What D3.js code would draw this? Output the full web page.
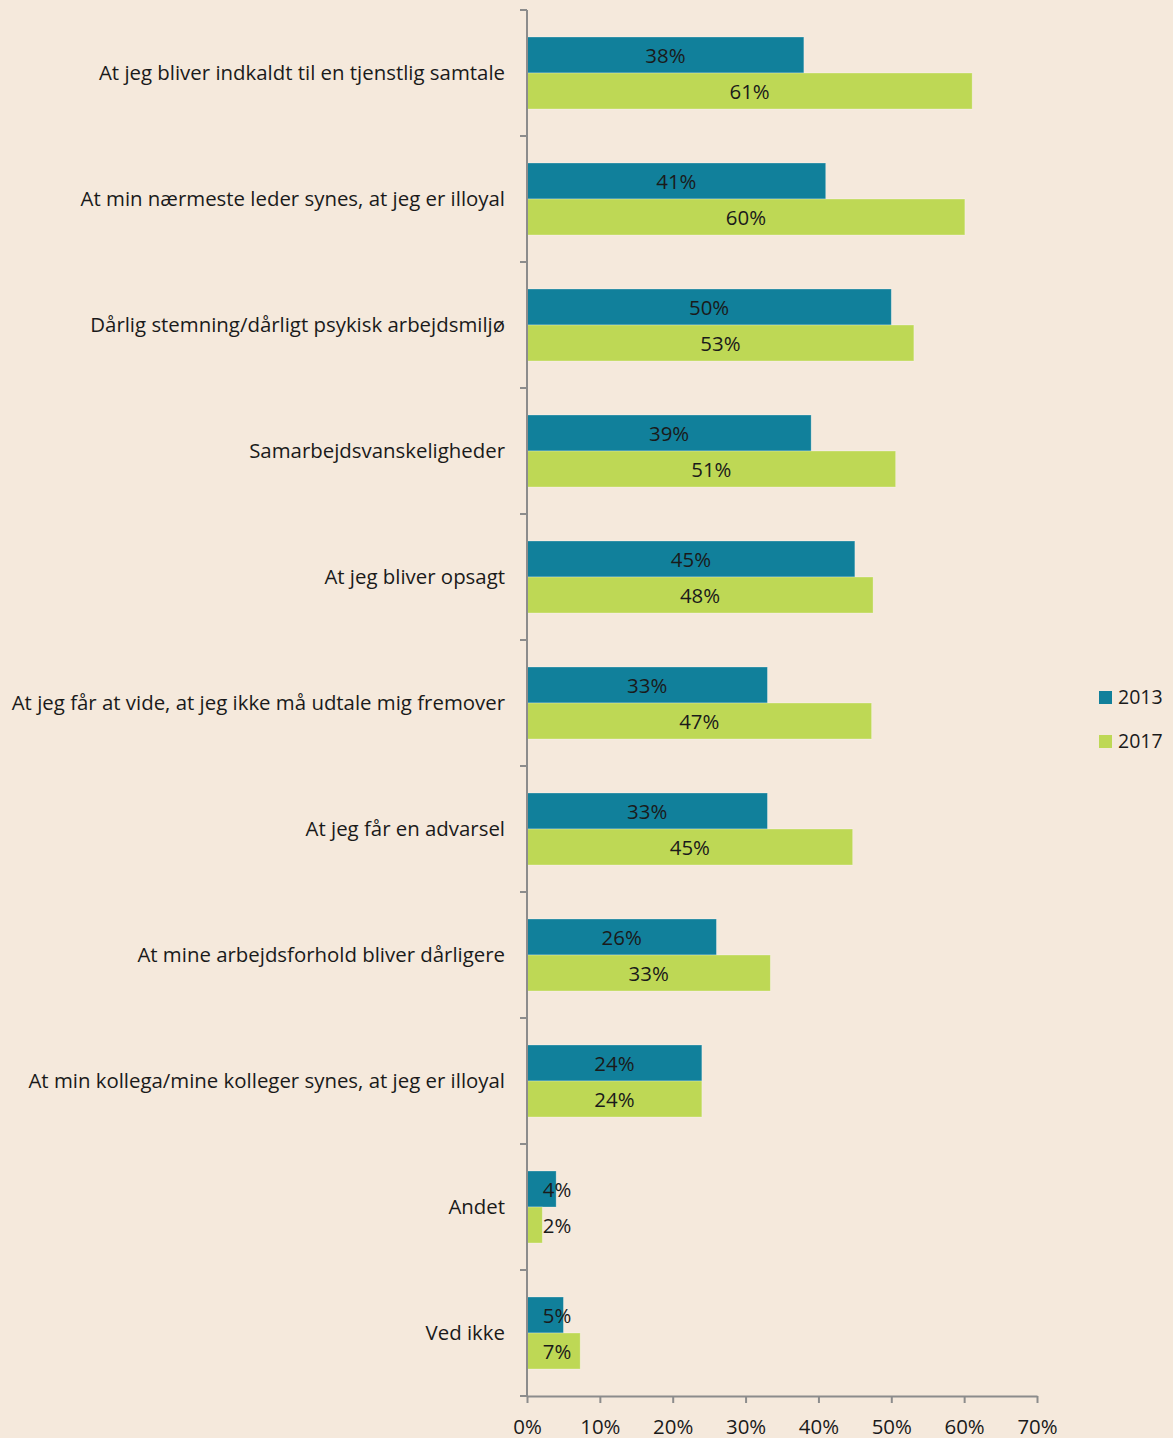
<!DOCTYPE html>
<html><head><meta charset="utf-8">
<script src="https://cdn.jsdelivr.net/npm/d3@7"></script>
<style>
html,body{margin:0;padding:0;background:#f5e9dc;}
text{font-family:"Open Sans","Noto Sans",sans-serif;fill:#1a1a1a;}
</style></head><body>
<svg id="c" width="1173" height="1438"></svg>
<script>
const categories = [
  "At jeg bliver indkaldt til en tjenstlig samtale",
  "At min nærmeste leder synes, at jeg er illoyal",
  "Dårlig stemning/dårligt psykisk arbejdsmiljø",
  "Samarbejdsvanskeligheder",
  "At jeg bliver opsagt",
  "At jeg får at vide, at jeg ikke må udtale mig fremover",
  "At jeg får en advarsel",
  "At mine arbejdsforhold bliver dårligere",
  "At min kollega/mine kolleger synes, at jeg er illoyal",
  "Andet",
  "Ved ikke"
];
const series = ["2013", "2017"];
const values2013 = [38.0, 41.0, 50.0, 39.0, 45.0, 33.0, 33.0, 26.0, 24.0, 4.0, 5.0];
const values2017 = [61.1, 60.1, 53.1, 50.6, 47.5, 47.3, 44.7, 33.4, 24.0, 2.1, 7.3];
const xTicks = [0, 10, 20, 30, 40, 50, 60, 70];
const colors = ["#11809b", "#bed855"];

const svg = d3.select("#c");
const x = d3.scaleLinear().domain([0, 70]).range([527, 1037]);
const y = d3.scaleBand().domain(categories).range([10, 1396]).paddingInner(54/126).paddingOuter(27/126);
const ySub = d3.scaleBand().domain(series).range([0, y.bandwidth()]);

const data = categories.map((c, i) => ({c, v: [values2013[i], values2017[i]]}));
const FS = 20.4;

// bars
const g = svg.append("g");
data.forEach(d => {
  series.forEach((s, j) => {
    const v = d.v[j];
    const yy = y(d.c) + ySub(s);
    g.append("rect")
      .attr("x", x(0)).attr("y", yy)
      .attr("width", x(v) - x(0)).attr("height", ySub.bandwidth())
      .attr("fill", colors[j])
      .attr("stroke", "rgba(255,255,255,0.35)").attr("stroke-width", 0.8);
    const cx = Math.max((x(0) + x(v)) / 2, x(0) + 30);
    g.append("text")
      .attr("x", cx).attr("y", yy + ySub.bandwidth() / 2)
      .attr("dy", "0.38em").attr("text-anchor", "middle")
      .attr("font-size", FS)
      .text(Math.round(v) + "%");
  });
});

// y axis
const axisColor = "#8c8c8c";
svg.append("line").attr("x1", 527).attr("x2", 527).attr("y1", 10).attr("y2", 1396)
  .attr("stroke", axisColor).attr("stroke-width", 2);
const boundaries = categories.map(c => y(c) - y.step() * 27/126).concat([1396]);
boundaries.forEach(b => {
  svg.append("line").attr("x1", 520).attr("x2", 527).attr("y1", b).attr("y2", b)
    .attr("stroke", axisColor).attr("stroke-width", 2);
});
categories.forEach(c => {
  svg.append("text").attr("x", 505).attr("y", y(c) + y.bandwidth() / 2)
    .attr("dy", "0.36em").attr("text-anchor", "end").attr("font-size", FS).text(c);
});

// x axis
const xAxis = d3.axisBottom(x).tickValues(xTicks).tickFormat(d => d + "%").tickSize(7).tickSizeOuter(0);
const xg = svg.append("g").attr("transform", "translate(0,1396)").call(xAxis);
xg.select(".domain").attr("stroke", axisColor).attr("stroke-width", 2);
xg.selectAll(".tick line").attr("stroke", axisColor).attr("stroke-width", 2);
xg.selectAll(".tick text").attr("font-size", FS).attr("dy", 0).attr("y", 38)
  .attr("font-family", "'Open Sans','Noto Sans',sans-serif").attr("fill", "#1a1a1a");

// legend
const lg = svg.append("g");
series.forEach((s, j) => {
  const ly = 697 + j * 44;
  lg.append("rect").attr("x", 1099).attr("y", ly - 6).attr("width", 13).attr("height", 13).attr("fill", colors[j]);
  lg.append("text").attr("x", 1118).attr("y", ly).attr("dy", "0.36em").attr("font-size", 19.5).text(s);
});
</script>
</body></html>
